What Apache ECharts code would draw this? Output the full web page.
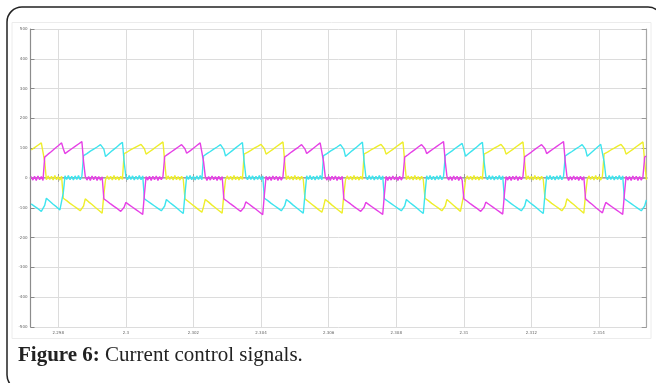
<!DOCTYPE html>
<html>
<head>
<meta charset="utf-8">
<script src="https://cdn.jsdelivr.net/npm/echarts@6/dist/echarts.min.js"></script>
<style>
html, body { margin: 0; padding: 0; background: #fff; }
#chart { width: 656px; height: 383px; }
</style>
</head>
<body>
<div id="chart"></div>
<script>
// scope samples: one value every 50 us, first sample at t = 2.2972 s
const sampleStart = 2.2972;
const sampleStep = 0.00005;

const timeTicks = [2.298, 2.3, 2.302, 2.304, 2.306, 2.308, 2.31, 2.312, 2.314];

const magentaValues = [
  5,-7,6,-8,7,-6,5,-8,
  70,75,80,84,89,94,99,104,108,113,118, 98,
  82,86,90,94,98,102,106,110,114,118,122, 55,
  6,-7,5,-8,7,-6,6,-8,5,-7,4,
  -70,-74,-78,-83,-87,-91,-95,-99,-103,-108,-112,-116, -98,
  -82,-86,-90,-94,-98,-102,-106,-110,-114,-118,-122, -55,
  5,-7,6,-8,6,-6,7,-8,5,-6,6,
  72,76,80,84,88,92,96,100,104,108,112,117, 98,
  83,87,91,96,100,105,109,114,118,122, 55,
  6,-8,5,-7,7,-6,5,-8,6,-7,5,
  -70,-74,-78,-83,-87,-91,-95,-99,-104,-108,-112,-117, -98,
  -80,-84,-88,-92,-97,-101,-105,-109,-114,-118,-123, -55,
  6,-7,5,-8,7,-6,6,-8,5,-7,5,
  70,74,78,83,87,91,95,99,103,108,112,116, 97,
  82,86,91,95,100,104,109,113,118,122, 55,
  5,-7,6,-8,6,-6,7,-8,5,-6,6,
  -71,-75,-79,-83,-87,-91,-96,-100,-104,-108,-112,-116, -98,
  -82,-86,-90,-94,-98,-102,-106,-110,-114,-118,-122, -55,
  6,-8,5,-7,7,-6,5,-8,6,-7,5,
  70,74,78,83,87,91,95,99,104,108,112,117, 98,
  82,86,90,94,98,102,106,110,114,118,122, 55,
  6,-7,5,-8,7,-6,6,-8,5,-7,
  -70,-74,-78,-83,-87,-91,-95,-99,-103,-108,-112,-116, -98,
  -81,-85,-89,-93,-97,-101,-105,-109,-113,-117,-121, -55,
  5,-7,6,-8,6,-6,7,-8,5,-6,6,
  71,75,79,83,87,91,96,100,104,108,112,116, 98,
  82,86,90,94,98,102,106,110,114,118,122, 55,
  6,-8,5,-7,7,-6,5,-8,6,-7,5,
  -70,-75,-80,-84,-89,-94,-99,-103,-108,-113,-117, -98,
  -82,-86,-90,-94,-98,-102,-106,-110,-114,-118,-122, -55,
  6,-7,5,-8,7,-6,6,-8,5,-7,5,
  70,74
];

const cyanValues = [
  -87,-91,-95,-99,-103,-108,-112,-116, -92,
  -68,-73,-78,-83,-88,-92,-97,-102,-107,-112, -50,
  7,-5,8,-6,6,-7,7,-5,8,-6,6,
  75,79,82,86,90,93,97,101,104,108,112,116, 97,
  72,77,82,87,92,97,101,106,111,116,120, 55,
  6,-6,8,-5,7,-7,6,-5,8,-6,7,
  -70,-74,-78,-82,-86,-90,-94,-98,-102,-106,-110,-114, -94,
  -72,-77,-82,-86,-91,-96,-100,-105,-110,-114,-119, -55,
  7,-5,8,-6,6,-7,7,-5,8,-6,
  74,78,82,86,89,93,97,101,104,108,112,116, 95,
  74,79,83,88,92,97,101,106,110,115,119, 55,
  6,-6,8,-5,7,-7,6,-5,8,-6,7,
  -68,-72,-76,-81,-85,-89,-93,-97,-101,-106,-110,-114, -93,
  -72,-77,-81,-86,-91,-95,-100,-105,-109,-114,-118, -55,
  7,-5,8,-6,6,-7,7,-5,8,-6,
  75,79,82,86,90,93,97,101,104,108,112,116, 96,
  72,77,82,87,92,97,101,106,111,116,121, 55,
  6,-6,8,-5,7,-7,6,-5,8,-6,7,
  -70,-74,-78,-82,-86,-90,-94,-98,-102,-106,-110,-114, -94,
  -72,-77,-82,-86,-91,-96,-100,-105,-110,-114,-119, -55,
  7,-5,8,-6,6,-7,7,-5,8,-6,6,
  75,79,83,87,91,95,100,104,108,112,116, 96,
  73,78,83,87,92,97,101,106,111,115,120, 55,
  6,-6,8,-5,7,-7,6,-5,8,-6,7,
  -69,-73,-77,-81,-86,-90,-94,-98,-102,-106,-110,-115, -94,
  -72,-77,-82,-86,-91,-96,-100,-105,-110,-114,-119, -55,
  7,-5,8,-6,6,-7,7,-5,8,-6,6,
  74,78,82,86,89,93,97,101,104,108,112,116, 96,
  73,78,83,88,93,98,103,108,113,118, 55,
  6,-6,8,-5,7,-7,6,-5,8,-6,7,
  -70,-74,-78,-82,-86,-90,-94,-98,-102,-106,-110,-114,
  -94,-74
];

const yellowValues = [
  94,98,102,106,110,114,118,122, 55,
  -6,7,-5,6,-7,8,-6,5,-7,6,
  -68,-72,-76,-81,-85,-89,-93,-97,-101,-106,-110,-114, -94,
  -70,-75,-80,-84,-89,-94,-99,-103,-108,-113,-118, -55,
  -6,7,-5,6,-7,8,-6,5,-7,6,-5,
  82,85,88,91,95,98,101,104,107,110,113,116, 98,
  80,84,88,92,96,100,105,109,113,117,121, 55,
  -6,7,-5,6,-7,8,-6,5,-7,6,-5,
  -70,-75,-79,-84,-88,-93,-97,-102,-106,-111,-115, -96,
  -72,-77,-81,-86,-91,-95,-100,-105,-109,-114,-118, -55,
  -6,7,-5,6,-7,8,-6,5,-7,6,-5,
  80,83,86,90,93,96,100,103,106,110,113,116, 98,
  80,84,88,92,96,100,105,109,113,117,121, 55,
  -6,7,-5,6,-7,8,-6,5,-7,6,-5,
  -70,-75,-79,-84,-88,-93,-97,-102,-106,-111,-115, -96,
  -72,-77,-81,-86,-91,-95,-100,-105,-109,-114,-118, -55,
  -6,7,-5,6,-7,8,-6,5,-7,6,-5,
  81,84,87,91,94,97,100,104,107,110,113,117, 98,
  80,84,88,92,96,100,105,109,113,117,121, 55,
  -6,7,-5,6,-7,8,-6,5,-7,6,-5,
  -68,-72,-76,-81,-85,-89,-93,-97,-101,-106,-110,-114, -94,
  -72,-77,-82,-87,-92,-97,-102,-107,-112,-117, -55,
  -6,7,-5,6,-7,8,-6,5,-7,6,-5,
  80,83,86,90,93,96,100,103,106,110,113,116, 98,
  80,84,88,92,96,100,105,109,113,117,121, 55,
  -6,7,-5,6,-7,8,-6,5,-7,6,-5,
  -68,-72,-76,-81,-85,-89,-93,-97,-101,-106,-110,-114, -94,
  -70,-75,-80,-84,-89,-94,-99,-103,-108,-113,-118, -55,
  -6,7,-5,6,-7,8,-6,5,-7,6,
  81,84,87,91,94,97,100,104,107,110,113,117, 98,
  80,84,88,92,96,100,105,109,113,117,121, 55,
  -6
];

function toPoints(values) {
  return values.map((v, i) => [sampleStart + i * sampleStep, v]);
}

const chart = echarts.init(document.getElementById("chart"), null, { renderer: "canvas" });

const xMin = 2.29718;
const xMax = 2.31541;

chart.setOption({
  animation: false,
  backgroundColor: "#fff",
  grid: {
    left: 30.5,
    right: 9.3,
    top: 29,
    bottom: 56,
    outerBoundsMode: "none"
  },
  xAxis: [
    {
      type: "value",
      position: "bottom",
      min: xMin,
      max: xMax,
      axisLine: { lineStyle: { color: "#a0a0a0", width: 2 } },
      axisTick: { inside: true, length: 4, customValues: timeTicks, lineStyle: { color: "#999" } },
      axisLabel: { customValues: timeTicks, fontSize: 4, color: "#666", margin: 4, fontFamily: "DejaVu Sans" },
      splitLine: { show: true, lineStyle: { color: "#dcdcdc", width: 1 } }
    },
    {
      type: "value",
      position: "top",
      min: xMin,
      max: xMax,
      axisLine: { show: true, lineStyle: { color: "#c4c4c4", width: 1 } },
      axisTick: { inside: true, length: 4, customValues: timeTicks, lineStyle: { color: "#aaa" } },
      axisLabel: { show: false },
      splitLine: { show: false }
    }
  ],
  yAxis: [
    {
      type: "value",
      position: "left",
      min: -500,
      max: 500,
      interval: 100,
      axisLine: { show: true, lineStyle: { color: "#8c8c8c", width: 1.2 } },
      axisTick: { show: true, inside: true, length: 4, lineStyle: { color: "#888" } },
      axisLabel: { fontSize: 4, color: "#666", margin: 3, fontFamily: "DejaVu Sans" },
      splitLine: { show: true, lineStyle: { color: "#dcdcdc", width: 1 } }
    },
    {
      type: "value",
      position: "right",
      min: -500,
      max: 500,
      interval: 100,
      axisLine: { show: true, lineStyle: { color: "#a8a8a8", width: 1.2 } },
      axisTick: { show: true, inside: true, length: 5, lineStyle: { color: "#999" } },
      axisLabel: { show: false },
      splitLine: { show: false }
    }
  ],
  series: [
    {
      name: "yellow",
      type: "line",
      data: toPoints(yellowValues),
      showSymbol: false,
      lineStyle: { color: "#eeee2c", width: 1.4 }
    },
    {
      name: "cyan",
      type: "line",
      data: toPoints(cyanValues),
      showSymbol: false,
      lineStyle: { color: "#3ee4ee", width: 1.4 }
    },
    {
      name: "magenta",
      type: "line",
      data: toPoints(magentaValues),
      showSymbol: false,
      lineStyle: { color: "#e640e6", width: 1.4 }
    }
  ],
  graphic: [
    {
      type: "rect",
      silent: true,
      shape: { x: 12, y: 22.5, width: 639, height: 316 },
      style: { fill: "none", stroke: "#ececec", lineWidth: 1 }
    },
    {
      type: "rect",
      silent: true,
      shape: { x: 7, y: 7, width: 656, height: 383, r: 15 },
      style: { fill: "none", stroke: "#222", lineWidth: 1.5 }
    },
    {
      type: "text",
      silent: true,
      left: 18,
      top: 345,
      style: {
        text: "{b|Figure 6:} Current control signals.",
        font: "21px 'Liberation Serif'",
        fill: "#222",
        rich: {
          b: { fontWeight: "bold", fontSize: 21, fontFamily: "Liberation Serif", fill: "#222" }
        }
      }
    }
  ]
});
</script>
</body>
</html>
